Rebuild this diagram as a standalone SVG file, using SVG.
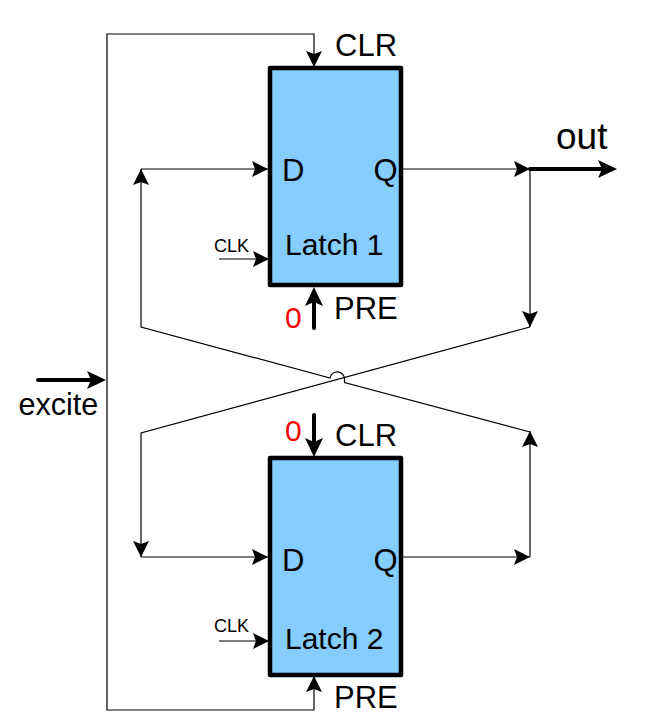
<svg xmlns="http://www.w3.org/2000/svg" width="647" height="727" viewBox="0 0 647 727">
<style>
.t{font-family:"Liberation Sans",Arial,sans-serif;fill:#000}
.box{fill:#85CCFF;stroke:#000;stroke-width:4.5;stroke-linejoin:round}
.w{fill:none;stroke:#000;stroke-width:1.2}
.b{fill:none;stroke:#000;stroke-width:4;stroke-linecap:round}
.r{fill:#f00;font-family:"Liberation Sans",Arial,sans-serif;font-size:30px}
</style>
<defs>
<marker id="a" markerUnits="userSpaceOnUse" viewBox="0 0 18 18" markerWidth="18" markerHeight="18" refX="16" refY="9" orient="auto"><path d="M0 1L16 9L0 17L3 9Z" fill="#000"/></marker>
<marker id="c" markerUnits="userSpaceOnUse" viewBox="0 0 20 20" markerWidth="20" markerHeight="20" refX="9" refY="10" orient="auto"><path d="M0 1L19 10L0 19L4 10Z" fill="#000"/></marker>
</defs>
<g id="latch1"><rect class="box" x="270" y="68" width="131" height="217"/>
<text class="t" x="282" y="181" font-size="31">D</text><text class="t" x="373.500" y="181" font-size="31">Q</text>
<text class="t" x="285" y="255" font-size="30">Latch 1</text></g>
<g id="latch2"><rect class="box" x="270" y="458" width="131" height="217"/>
<text class="t" x="282" y="571" font-size="31">D</text><text class="t" x="373.500" y="571" font-size="31">Q</text>
<text class="t" x="285" y="649" font-size="30">Latch 2</text></g>
<g id="connectors">
<path class="w" marker-end="url(#a)" d="M314 710H107V34H314V67"/>
<path class="w" marker-end="url(#a)" d="M314 710V676"/>
<path class="w" marker-end="url(#a)" d="M141 169H268"/>
<path class="w" marker-end="url(#a)" d="M141 557H268"/>
<path class="w" marker-end="url(#a)" d="M219 259H269"/>
<path class="w" marker-end="url(#a)" d="M219 641H269"/>
<path class="w" marker-end="url(#a)" d="M403 169H530"/>
<path class="w" marker-end="url(#a)" d="M403 557H530"/>
<path class="w" marker-end="url(#a)" d="M530 169V327"/>
<path class="w" marker-end="url(#a)" d="M530 557V431"/>
<path class="w" marker-end="url(#a)" d="M530 327L141 433V557"/>
<path class="w" marker-end="url(#a)" d="M530 432L344.500 382.500V379.500A7.300 7.300 0 0 0 330 378L141 327V169"/>
<path class="b" marker-end="url(#c)" d="M38 380H96"/>
<path class="b" marker-end="url(#c)" d="M530 169H607"/>
<path class="b" marker-end="url(#c)" d="M314 328V297"/>
<path class="b" marker-end="url(#c)" d="M314 415V447"/>
</g>
<g id="labels">
<text class="t" x="335" y="56" font-size="31">CLR</text>
<text class="t" x="335" y="446" font-size="31">CLR</text>
<text class="t" x="334" y="319" font-size="31">PRE</text>
<text class="t" x="334" y="708" font-size="31">PRE</text>
<text class="t" x="214" y="252" font-size="18">CLK</text>
<text class="t" x="214" y="632" font-size="18">CLK</text>
<text class="t" x="18.500" y="415" font-size="30.500">excite</text>
<text class="t" x="556" y="149" font-size="37">out</text>
<text class="r" x="285" y="328">0</text>
<text class="r" x="285" y="441">0</text>
</g>
</svg>
